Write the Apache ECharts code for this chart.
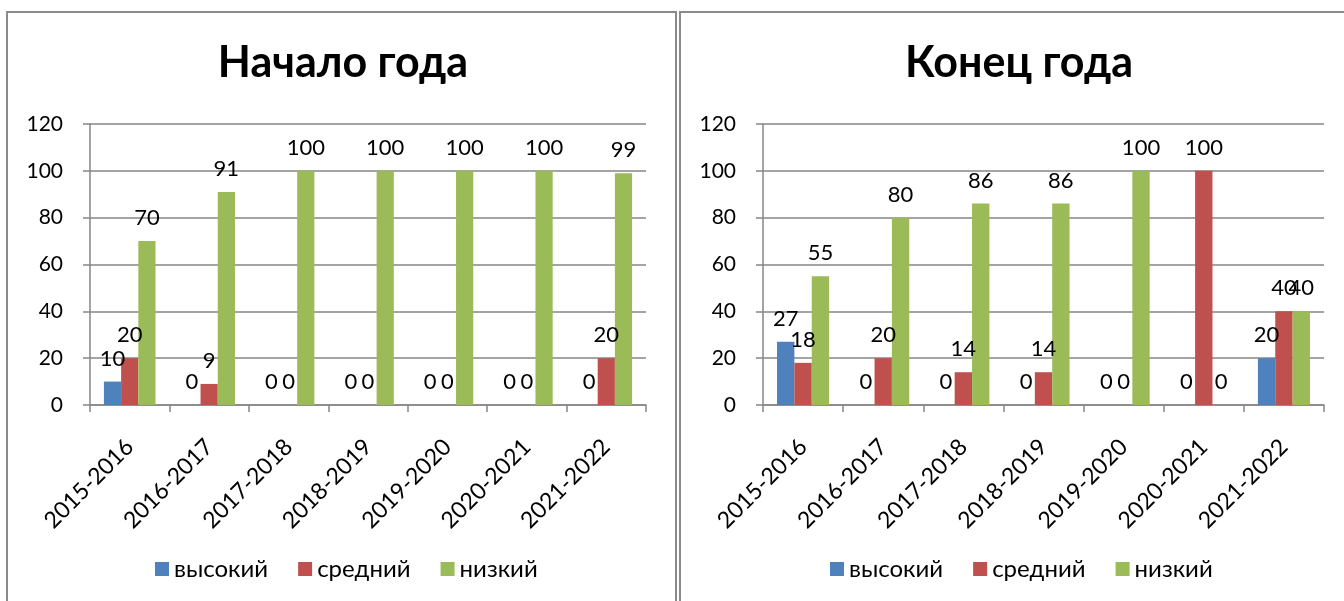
<!DOCTYPE html>
<html>
<head>
<meta charset="utf-8">
<script src="https://cdn.jsdelivr.net/npm/echarts@6/dist/echarts.min.js"></script>
<style>
  html, body { margin: 0; padding: 0; background: #fff; }
  .panel { position: absolute; border: 2px solid #8a8a8a; border-bottom: none; box-sizing: border-box; }
  #chart { position: absolute; left: 0; top: 0; width: 1344px; height: 601px; }
</style>
</head>
<body>
<div class="panel" style="left:6px; top:11px; width:671px; height:600px;"></div>
<div class="panel" style="left:679px; top:11px; width:700px; height:600px; border-right:none;"></div>
<div id="chart"></div>
<script>
const categories = ['2015-2016', '2016-2017', '2017-2018', '2018-2019', '2019-2020', '2020-2021', '2021-2022']
const seriesNames = ['высокий', 'средний', 'низкий']
const colors = ['#4F81BD', '#C0504D', '#9BBB59']

// Начало года
const startHigh = [10, 0, 0, 0, 0, 0, 0]
const startMid = [20, 9, 0, 0, 0, 0, 20]
const startLow = [70, 91, 100, 100, 100, 100, 99]

// Конец года
const endHigh = [27, 0, 0, 0, 0, 0, 20]
const endMid = [18, 20, 14, 14, 0, 100, 40]
const endLow = [55, 80, 86, 86, 100, 0, 40]

const yTicks = [0, 20, 40, 60, 80, 100, 120]

const font = 'Lato'
const gridColor = '#868686'

const chart = echarts.init(document.getElementById('chart'))

function xAxis(gridIndex) {
  return {
    type: 'category',
    gridIndex,
    data: categories,
    axisLine: { show: true, lineStyle: { color: gridColor, width: 1.5 } },
    axisTick: { show: true, length: 7, interval: 0, lineStyle: { color: gridColor, width: 1.5 } },
    axisLabel: { interval: 0, rotate: 45, margin: 38, fontSize: 23, fontFamily: font, color: '#000' }
  }
}

function yAxis(gridIndex) {
  return {
    type: 'value',
    gridIndex,
    min: yTicks[0],
    max: yTicks[yTicks.length - 1],
    interval: yTicks[1] - yTicks[0],
    axisLine: { show: true, lineStyle: { color: gridColor, width: 1.5 } },
    axisTick: { show: true, length: 7, lineStyle: { color: gridColor, width: 1.5 } },
    splitLine: { show: true, lineStyle: { color: gridColor, width: 1.5 } },
    axisLabel: { margin: 27, fontSize: 21, fontFamily: font, color: '#000' }
  }
}

function bars(name, data, idx, axisIndex) {
  return {
    name,
    type: 'bar',
    xAxisIndex: axisIndex,
    yAxisIndex: axisIndex,
    data,
    barGap: '0%',
    barCategoryGap: '35%',
    itemStyle: { color: colors[idx] },
    label: { show: true, position: 'top', distance: 12, fontSize: 22, fontFamily: font, color: '#000' },
    emphasis: { disabled: true }
  }
}

const legendCommon = {
  data: seriesNames,
  icon: 'rect',
  itemWidth: 14,
  itemHeight: 14,
  itemGap: 30,
  top: 552,
  textStyle: { fontSize: 24, fontFamily: font, color: '#000' }
}

const titleStyle = { fontSize: 43, fontWeight: 'bold', fontFamily: font, color: '#000' }

const options = {
  animation: false,
  color: colors,
  title: [
    { text: 'Начало года', left: 338, top: 37, textAlign: 'center', textStyle: titleStyle },
    { text: 'Конец года', left: 1014, top: 37, textAlign: 'center', textStyle: titleStyle }
  ],
  legend: [
    Object.assign({ left: 150 }, legendCommon),
    Object.assign({ left: 825 }, legendCommon)
  ],
  grid: [
    { left: 90, right: 698, top: 124, bottom: 196 },
    { left: 763, right: 20, top: 124, bottom: 196 }
  ],
  xAxis: [xAxis(0), xAxis(1)],
  yAxis: [yAxis(0), yAxis(1)],
  series: [
    bars(seriesNames[0], startHigh, 0, 0),
    bars(seriesNames[1], startMid, 1, 0),
    bars(seriesNames[2], startLow, 2, 0),
    bars(seriesNames[0], endHigh, 0, 1),
    bars(seriesNames[1], endMid, 1, 1),
    bars(seriesNames[2], endLow, 2, 1)
  ]
}

chart.setOption(options)
</script>
</body>
</html>
